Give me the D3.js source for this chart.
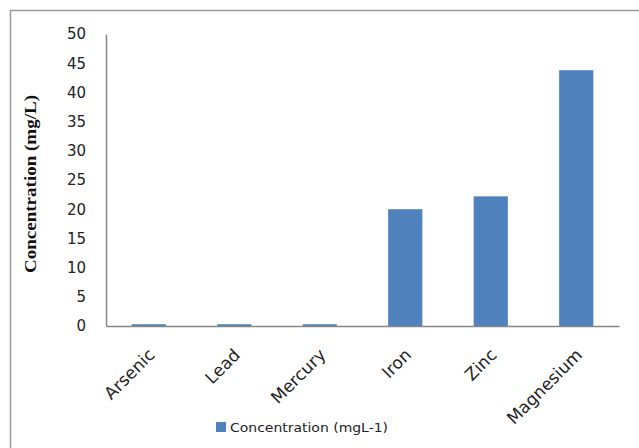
<!DOCTYPE html>
<html>
<head>
<meta charset="utf-8">
<script src="https://cdn.jsdelivr.net/npm/d3@7"></script>
<style>
  html, body { margin: 0; padding: 0; background: #fff; }
  svg { display: block; }
</style>
</head>
<body>
<svg id="chart" width="639" height="448"></svg>
<script>
// Metal concentrations in the sample (mg/L)
const categories = ["Arsenic", "Lead", "Mercury", "Iron", "Zinc", "Magnesium"];
const values = [0.3, 0.3, 0.3, 20, 22.2, 43.8];
const yTicks = [0, 5, 10, 15, 20, 25, 30, 35, 40, 45, 50];
const seriesName = "Concentration (mgL-1)";
const yTitle = "Concentration (mg/L)";

const svg = d3.select("#chart");
const W = 639, H = 448;
const m = { left: 106, right: 20, top: 34, bottom: 122 };
const barColor = "#4F81BD";
const axisColor = "#868686";
const tickFont = "DejaVu Sans, sans-serif";

// Chart frame: top and left edges only
svg.append("path")
  .attr("d", `M10.5,${H} V10.5 H${W}`)
  .attr("fill", "none").attr("stroke", "#9a9a9a").attr("stroke-width", 1.5);

const x = d3.scaleBand().domain(categories).range([m.left, W - m.right]).padding(0);
const y = d3.scaleLinear().domain([0, 50]).range([H - m.bottom, m.top]);
const barW = x.bandwidth() * 0.4;

// Bars
svg.append("g").selectAll("rect").data(categories).join("rect")
  .attr("x", (d) => x(d) + (x.bandwidth() - barW) / 2)
  .attr("width", barW)
  .attr("y", (d, i) => y(values[i]))
  .attr("height", (d, i) => y(0) - y(values[i]))
  .attr("fill", barColor);

// Y axis
const yAxis = svg.append("g")
  .attr("transform", `translate(${m.left},0)`)
  .call(d3.axisLeft(y).tickValues(yTicks).tickSize(0).tickPadding(20));
yAxis.select(".domain").attr("stroke", axisColor).attr("stroke-width", 1.5);
yAxis.selectAll("text")
  .attr("font-family", tickFont).attr("font-size", 15).attr("fill", "#222");

// X axis
const xAxis = svg.append("g")
  .attr("transform", `translate(0,${y(0)})`)
  .call(d3.axisBottom(x).tickSize(0).tickPadding(0));
xAxis.select(".domain").attr("stroke", axisColor).attr("stroke-width", 1.5);
xAxis.selectAll("text")
  .attr("font-family", tickFont).attr("font-size", 17).attr("fill", "#222")
  .attr("text-anchor", "end")
  .attr("dy", 0)
  .attr("transform", "translate(7,30) rotate(-45)");

// Y axis title
svg.append("text")
  .attr("transform", `translate(36,${(y(0) + y(50)) / 2 + 4}) rotate(-90)`)
  .attr("text-anchor", "middle")
  .attr("font-family", "Liberation Serif, serif")
  .attr("font-weight", "bold")
  .attr("font-size", 17)
  .attr("textLength", 178)
  .attr("lengthAdjust", "spacingAndGlyphs")
  .attr("fill", "#111")
  .text(yTitle);

// Legend
const lg = svg.append("g").attr("transform", "translate(216,422)");
lg.append("rect").attr("width", 10).attr("height", 10).attr("fill", barColor);
lg.append("text")
  .attr("x", 14).attr("y", 10)
  .attr("font-family", tickFont).attr("font-size", 13).attr("fill", "#222")
  .attr("textLength", 158).attr("lengthAdjust", "spacingAndGlyphs")
  .text(seriesName);
</script>
</body>
</html>
